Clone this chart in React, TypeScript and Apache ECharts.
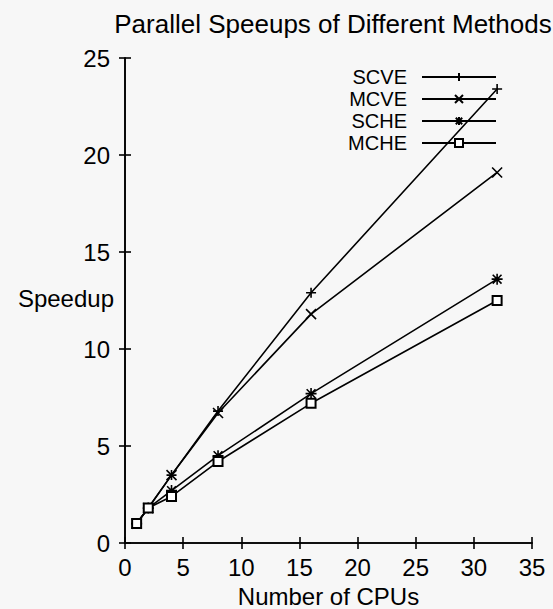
import React, { useEffect, useRef } from "react";
import * as echarts from "echarts";

const cpus = [1, 2, 4, 8, 16, 32];
const scve = [1, 1.8, 3.5, 6.8, 12.9, 23.4];
const mcve = [1, 1.8, 3.5, 6.7, 11.8, 19.1];
const sche = [1, 1.8, 2.7, 4.5, 7.7, 13.6];
const mche = [1, 1.8, 2.4, 4.2, 7.2, 12.5];
const seriesNames = ["SCVE", "MCVE", "SCHE", "MCHE"];

const FONT = "Liberation Sans";
const PLUS = "path://M0,5L10,5M5,0L5,10";
const CROSS = "path://M0,0L10,10M10,0L0,10";
const STAR = "path://M0,5L10,5M5,0L5,10M1,1L9,9M9,1L1,9";

export default function App() {
  const ref = useRef<HTMLDivElement>(null);
  useEffect(() => {
    if (!ref.current) return;
    const chart = echarts.init(ref.current, null, { renderer: "svg" });
    const pair = (ys: number[]) => cpus.map((x, i) => [x, ys[i]]);
    const symbols = [PLUS, CROSS, STAR, "emptyRect"];
    const sizes = [10, 10, 11, 9];
    const values = [scve, mcve, sche, mche];
    const series = seriesNames.map((name, i) => ({
      name,
      type: "line",
      data: pair(values[i]),
      symbol: symbols[i],
      symbolSize: sizes[i],
      showAllSymbol: true,
      lineStyle: { color: "#000", width: 1.6 },
      itemStyle: { color: "#000", borderColor: "#000", borderWidth: 1.6 },
      emphasis: { disabled: true },
    }));
    const tickAxisCommon = {
      axisLine: { show: true, lineStyle: { color: "#000", width: 1.6 } },
      axisTick: { show: true, inside: true, length: 6, lineStyle: { color: "#000", width: 1.6 } },
      splitLine: { show: false },
    };
    chart.setOption({
      animation: false,
      backgroundColor: "#f7f7f7",
      title: {
        text: "Parallel Speeups of Different Methods",
        left: 328,
        top: 6,
        textAlign: "center",
        textStyle: { fontFamily: FONT, fontSize: 26, fontWeight: "normal", color: "#000" },
      },
      legend: {
        orient: "vertical",
        right: 51,
        top: 62,
        align: "right",
        itemWidth: 74,
        itemHeight: 10,
        itemGap: 2,
        data: seriesNames,
        textStyle: { fontFamily: FONT, fontSize: 20, lineHeight: 20, color: "#000", padding: [0, 10, 0, 0] },
        selectedMode: false,
      },
      graphic: [
        {
          type: "text",
          right: 553 - 114,
          top: 286,
          style: { text: "Speedup", font: `24px "${FONT}"`, fill: "#000" },
        },
      ],
      grid: { left: 125, right: 21, top: 58, bottom: 66, outerBoundsMode: "none", containLabel: false },
      xAxis: [
        {
          type: "value",
          min: 0,
          max: 35,
          interval: 5,
          name: "Number of CPUs",
          nameLocation: "middle",
          nameGap: 41,
          nameTextStyle: { fontFamily: FONT, fontSize: 24, color: "#000" },
          axisLabel: { fontFamily: FONT, fontSize: 24, color: "#000", margin: 12 },
          ...tickAxisCommon,
        },
        {
          type: "value",
          position: "top",
          min: 0,
          max: 35,
          interval: 5,
          axisLabel: { show: false },
          ...tickAxisCommon,
        },
      ],
      yAxis: [
        {
          type: "value",
          min: 0,
          max: 25,
          interval: 5,
          axisLabel: { fontFamily: FONT, fontSize: 24, color: "#000", margin: 15 },
          ...tickAxisCommon,
        },
        {
          type: "value",
          position: "right",
          min: 0,
          max: 25,
          interval: 5,
          axisLabel: { show: false },
          ...tickAxisCommon,
        },
      ],
      series,
    });
    return () => chart.dispose();
  }, []);
  return <div ref={ref} style={{ width: 553, height: 609, position: "absolute", left: 0, top: 0 }} />;
}
